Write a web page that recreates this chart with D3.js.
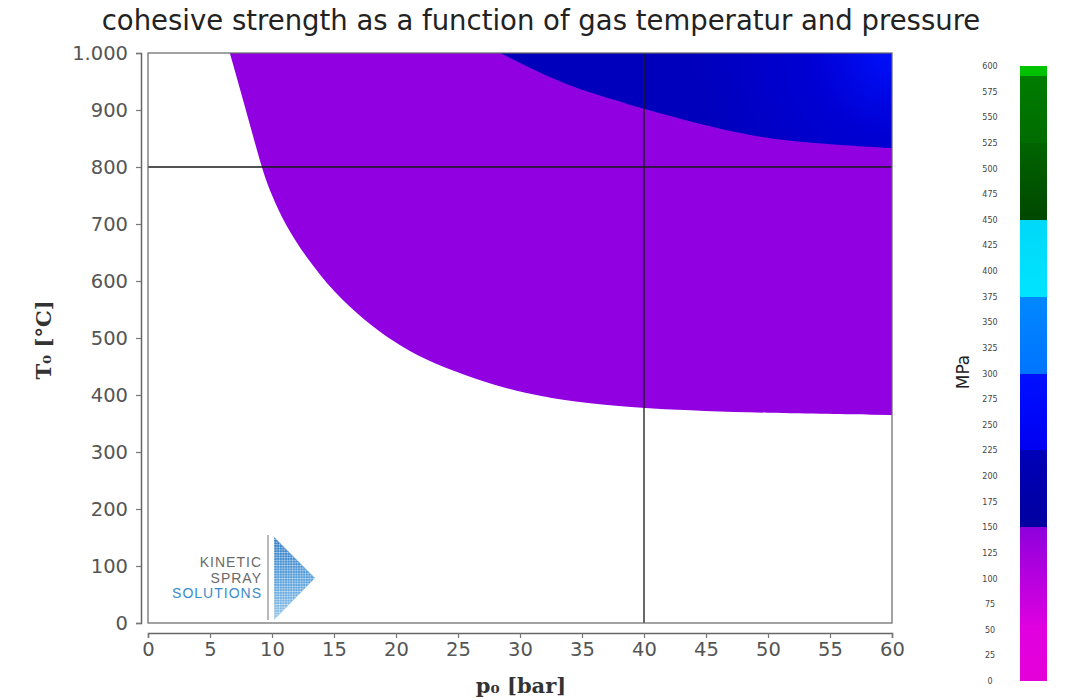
<!DOCTYPE html>
<html>
<head>
<meta charset="utf-8">
<script src="https://cdn.jsdelivr.net/npm/d3@7"></script>
<style>
  html, body { margin: 0; padding: 0; background: #fff; }
  svg { display: block; }
</style>
</head>
<body>
<svg id="chart" width="1073" height="700"></svg>
<script>
// Axis ticks
const pressureTicks = [0, 5, 10, 15, 20, 25, 30, 35, 40, 45, 50, 55, 60];
const temperatureTicks = [0, 100, 200, 300, 400, 500, 600, 700, 800, 900, 1000];
const strengthTicks = d3.range(0, 601, 25);

// Contour edges [p0 in bar, T0 in °C]: strength exceeds each level above the edge
const purpleEdge = [
  [6.6, 1000], [7.9, 900], [9.17, 798], [9.9, 754], [11.1, 697], [12.8, 640],
  [15.0, 580], [17.4, 532], [19.8, 493], [22.4, 461], [25.7, 433], [28.9, 411],
  [31.8, 397], [34.8, 387], [39.9, 376], [50, 368], [60, 365]
];
const blueEdge = [
  [28.4, 1000], [30.8, 974], [33.2, 950], [34.8, 936], [40.1, 901], [44.5, 875],
  [48.3, 856], [52.6, 843], [60, 833]
];

// Reference lines
const refPressure = [40];
const refTemperature = [800];

// Colour bar bands: [from MPa, to MPa, colour at low end, colour at high end]
const bandFrom = [0, 55, 150, 225, 300, 375, 450, 525, 590];
const bandTo = [55, 150, 225, 300, 375, 450, 525, 590, 600];
const bandLow = ['#e400d8', '#dc00e0', '#0000a0', '#0000f2', '#0074ff', '#00e4ff', '#004800', '#006c00', '#00c000'];
const bandHigh = ['#e000e0', '#8e00dc', '#0000b8', '#0010ff', '#0088ff', '#00d8f8', '#006400', '#007c00', '#00c400'];

const svg = d3.select('#chart');
const plot = { left: 148, right: 892, top: 53, bottom: 623 };

const x = d3.scaleLinear().domain([0, 60]).range([plot.left, plot.right]);
const y = d3.scaleLinear().domain([0, 1000]).range([plot.bottom, plot.top]);

const defs = svg.append('defs');

// Title
svg.append('text')
  .attr('x', 541).attr('y', 30)
  .attr('text-anchor', 'middle')
  .attr('font-family', 'DejaVu Sans')
  .attr('font-size', 27.5)
  .attr('fill', '#222')
  .text('cohesive strength as a function of gas temperatur and pressure');

// Plot background
svg.append('rect')
  .attr('x', plot.left).attr('y', plot.top)
  .attr('width', plot.right - plot.left).attr('height', plot.bottom - plot.top)
  .attr('fill', '#fff');

const clip = defs.append('clipPath').attr('id', 'plotClip');
clip.append('rect')
  .attr('x', plot.left).attr('y', plot.top)
  .attr('width', plot.right - plot.left).attr('height', plot.bottom - plot.top);

const fills = svg.append('g').attr('clip-path', 'url(#plotClip)');

const edgeArea = d3.area()
  .x(d => x(d[0]))
  .y0(d => y(d[1]))
  .y1(() => y(1000))
  .curve(d3.curveBasis);

// 75–150 MPa band
fills.append('path')
  .datum(purpleEdge)
  .attr('d', edgeArea)
  .attr('fill', '#9000e0');

// 150–225 MPa band, brighter towards the high-pressure / high-temperature corner
const blueGrad = defs.append('radialGradient')
  .attr('id', 'blueGrad')
  .attr('gradientUnits', 'userSpaceOnUse')
  .attr('cx', x(60)).attr('cy', y(1000)).attr('r', 200);
blueGrad.append('stop').attr('offset', 0).attr('stop-color', '#0010fa');
blueGrad.append('stop').attr('offset', 0.4).attr('stop-color', '#0000d4');
blueGrad.append('stop').attr('offset', 1).attr('stop-color', '#0000bc');

fills.append('path')
  .datum(blueEdge)
  .attr('d', edgeArea)
  .attr('fill', 'url(#blueGrad)');

// Reference lines
fills.selectAll('line.refv').data(refPressure).enter().append('line')
  .attr('x1', d => x(d)).attr('x2', d => x(d))
  .attr('y1', plot.top).attr('y2', plot.bottom)
  .attr('stroke', '#1a1a1a').attr('stroke-width', 1.3);
fills.selectAll('line.refh').data(refTemperature).enter().append('line')
  .attr('x1', plot.left).attr('x2', plot.right)
  .attr('y1', d => y(d)).attr('y2', d => y(d))
  .attr('stroke', '#1a1a1a').attr('stroke-width', 1.3);

// Frame
svg.append('rect')
  .attr('x', plot.left).attr('y', plot.top)
  .attr('width', plot.right - plot.left).attr('height', plot.bottom - plot.top)
  .attr('fill', 'none').attr('stroke', '#666').attr('stroke-width', 1.2);

// Axes, detached from the frame
const fmtT = d => d === 1000 ? '1.000' : String(d);

const xAxis = svg.append('g')
  .attr('transform', `translate(0,${plot.bottom + 10})`)
  .call(d3.axisBottom(x).tickValues(pressureTicks).tickSize(5).tickSizeOuter(5).tickPadding(4));
const yAxis = svg.append('g')
  .attr('transform', `translate(${plot.left - 7},0)`)
  .call(d3.axisLeft(y).tickValues(temperatureTicks).tickFormat(fmtT).tickSize(5).tickSizeOuter(5).tickPadding(8));

[xAxis, yAxis].forEach(g => {
  g.select('.domain').attr('stroke', '#666').attr('stroke-width', 1.5);
  g.selectAll('.tick line').attr('stroke', '#777').attr('stroke-width', 1.2);
  g.selectAll('.tick text')
    .attr('font-family', 'DejaVu Sans')
    .attr('font-size', 19.5)
    .attr('fill', '#555');
});

// Axis titles
svg.append('text')
  .attr('x', 521).attr('y', 693)
  .attr('text-anchor', 'middle')
  .attr('font-family', 'DejaVu Serif')
  .attr('font-weight', 'bold')
  .attr('font-size', 21)
  .attr('fill', '#333')
  .text('p₀ [bar]');

svg.append('text')
  .attr('transform', 'translate(51,340) rotate(-90)')
  .attr('text-anchor', 'middle')
  .attr('font-family', 'DejaVu Serif')
  .attr('font-weight', 'bold')
  .attr('font-size', 21)
  .attr('fill', '#333')
  .text('T₀ [°C]');

// Colour bar
const cb = { left: 1020, width: 27 };
const cbY = d3.scaleLinear().domain([0, 600]).range([681, 66]);

const cbGrad = defs.append('linearGradient')
  .attr('id', 'cbGrad')
  .attr('gradientUnits', 'userSpaceOnUse')
  .attr('x1', 0).attr('x2', 0)
  .attr('y1', cbY(0)).attr('y2', cbY(600));
bandFrom.forEach((from, i) => {
  cbGrad.append('stop').attr('offset', from / 600).attr('stop-color', bandLow[i]);
  cbGrad.append('stop').attr('offset', bandTo[i] / 600).attr('stop-color', bandHigh[i]);
});

svg.append('rect')
  .attr('x', cb.left).attr('y', cbY(600))
  .attr('width', cb.width).attr('height', cbY(0) - cbY(600))
  .attr('fill', 'url(#cbGrad)');

svg.append('g').selectAll('text').data(strengthTicks).enter().append('text')
  .attr('x', 990).attr('y', d => cbY(d) + 3)
  .attr('text-anchor', 'middle')
  .attr('font-family', 'DejaVu Sans')
  .attr('font-size', 8)
  .attr('fill', '#444')
  .text(d => d);

svg.append('text')
  .attr('transform', 'translate(969,372) rotate(-90)')
  .attr('text-anchor', 'middle')
  .attr('font-family', 'DejaVu Sans')
  .attr('font-size', 17)
  .attr('fill', '#222')
  .text('MPa');

// Company mark in the lower-left corner of the plot
const logo = svg.append('g');
const logoText = [
  { t: 'KINETIC', y: 567, c: '#6a6a6a' },
  { t: 'SPRAY', y: 583, c: '#6a6a6a' },
  { t: 'SOLUTIONS', y: 598, c: '#3a8ccc' }
];
logo.selectAll('text').data(logoText).enter().append('text')
  .attr('x', 262).attr('y', d => d.y)
  .attr('text-anchor', 'end')
  .attr('font-family', 'Liberation Sans')
  .attr('font-size', 14)
  .attr('letter-spacing', 1)
  .attr('fill', d => d.c)
  .text(d => d.t);

logo.append('line')
  .attr('x1', 268).attr('x2', 268).attr('y1', 535).attr('y2', 620)
  .attr('stroke', '#8a8a8a').attr('stroke-width', 1.2);

const dotPat = defs.append('pattern')
  .attr('id', 'dots').attr('patternUnits', 'userSpaceOnUse')
  .attr('width', 2.6).attr('height', 2.6);
dotPat.append('circle').attr('cx', 1.3).attr('cy', 1.3).attr('r', 0.95).attr('fill', '#fff');

const triGrad = defs.append('linearGradient')
  .attr('id', 'triGrad').attr('x1', 0).attr('x2', 0).attr('y1', 0).attr('y2', 1);
triGrad.append('stop').attr('offset', 0).attr('stop-color', '#1f6fc0');
triGrad.append('stop').attr('offset', 0.5).attr('stop-color', '#4a98d8');
triGrad.append('stop').attr('offset', 1).attr('stop-color', '#8cc0e8');

const tri = 'M274,537 L315,578 L274,620 Z';
logo.append('path').attr('d', tri).attr('fill', 'url(#triGrad)');
logo.append('path').attr('d', tri).attr('fill', 'url(#dots)').attr('opacity', 0.75);
</script>
</body>
</html>
